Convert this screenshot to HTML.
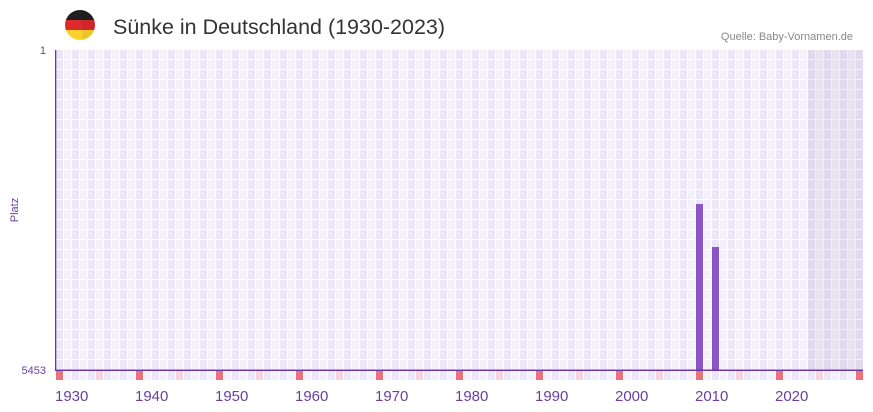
<!DOCTYPE html>
<html>
<head>
<meta charset="utf-8">
<style>
html,body{margin:0;padding:0;background:#fff;}
svg{display:block;}
text{font-family:"Liberation Sans","DejaVu Sans",sans-serif;}
</style>
</head>
<body>
<svg width="873" height="412" viewBox="0 0 873 412" xmlns="http://www.w3.org/2000/svg">
<defs>
  <pattern id="cells" patternUnits="userSpaceOnUse" x="56" y="50" width="16" height="10">
    <rect x="0" y="0" width="16" height="10" fill="#ffffff"/>
    <rect x="0" y="0" width="7" height="9" fill="#ece7f8"/>
    <rect x="8" y="0" width="7" height="9" fill="#f4f1fb"/>
  </pattern>
  <pattern id="bottom" patternUnits="userSpaceOnUse" x="56" y="371" width="80" height="9">
    <rect x="0" y="0" width="80" height="9" fill="#ffffff"/>
    <rect x="0" y="0" width="7" height="9" fill="#e8737b"/>
    <rect x="8" y="0" width="7" height="9" fill="#f4f1fb"/>
    <rect x="16" y="0" width="7" height="9" fill="#ece7f8"/>
    <rect x="24" y="0" width="7" height="9" fill="#f4f1fb"/>
    <rect x="32" y="0" width="7" height="9" fill="#ece7f8"/>
    <rect x="40" y="0" width="7" height="9" fill="#f5d6de"/>
    <rect x="48" y="0" width="7" height="9" fill="#ece7f8"/>
    <rect x="56" y="0" width="7" height="9" fill="#f4f1fb"/>
    <rect x="64" y="0" width="7" height="9" fill="#ece7f8"/>
    <rect x="72" y="0" width="7" height="9" fill="#f4f1fb"/>
  </pattern>
  <clipPath id="flagclip"><circle cx="80" cy="25" r="15"/></clipPath>
</defs>

<!-- flag -->
<g clip-path="url(#flagclip)">
  <rect x="65" y="10" width="30" height="10" fill="#1f1f1f"/>
  <rect x="65" y="20" width="30" height="10" fill="#dd2a2d"/>
  <rect x="65" y="30" width="30" height="10" fill="#fbd22e"/>
  <rect x="82" y="10" width="13" height="30" fill="#000" opacity="0.06"/>
</g>

<!-- title -->
<text x="113" y="34" font-size="21" fill="#333333" textLength="332" lengthAdjust="spacingAndGlyphs">Sünke in Deutschland (1930-2023)</text>
<text x="853" y="40" font-size="11" fill="#888888" text-anchor="end">Quelle: Baby-Vornamen.de</text>

<!-- grid -->
<rect x="56" y="50" width="807" height="320" fill="url(#cells)"/>
<!-- future shading -->
<rect x="808" y="50" width="55" height="320" fill="#8a80a8" opacity="0.13"/>

<!-- bottom year strip -->
<rect x="56" y="371" width="807" height="9" fill="url(#bottom)"/>

<!-- bars -->
<rect x="696" y="204" width="7" height="166" fill="#8b55c8"/>
<rect x="712" y="247" width="7" height="123" fill="#8b55c8"/>

<!-- axes -->
<rect x="55" y="50" width="1.3" height="321" fill="#6b35a8"/>
<rect x="55" y="369.5" width="808" height="1.5" fill="#6b35a8"/>

<!-- y labels -->
<text x="46" y="54" font-size="11" fill="#6a3fa0" text-anchor="end">1</text>
<text x="46" y="374" font-size="11" fill="#6a3fa0" text-anchor="end">5453</text>
<text x="0" y="0" font-size="11" fill="#6a3fa0" text-anchor="middle" transform="translate(18,210) rotate(-90)">Platz</text>

<!-- x labels -->
<g font-size="15" fill="#6a3fa0">
  <text x="55" y="401">1930</text>
  <text x="135" y="401">1940</text>
  <text x="215" y="401">1950</text>
  <text x="295" y="401">1960</text>
  <text x="375" y="401">1970</text>
  <text x="455" y="401">1980</text>
  <text x="535" y="401">1990</text>
  <text x="615" y="401">2000</text>
  <text x="695" y="401">2010</text>
  <text x="775" y="401">2020</text>
</g>
</svg>
</body>
</html>
